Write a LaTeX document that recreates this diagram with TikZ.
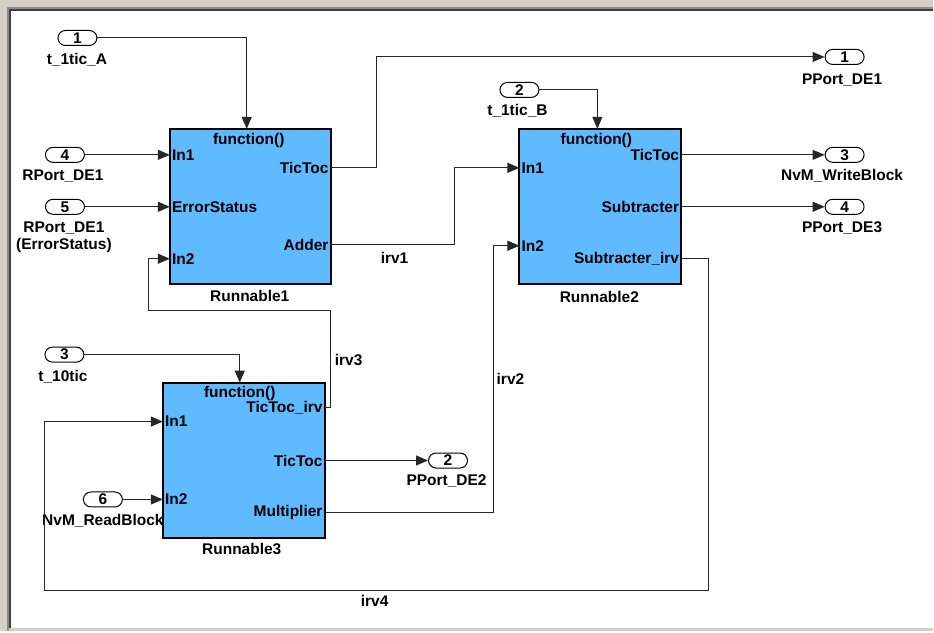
\documentclass[tikz,border=0pt]{standalone}
\usepackage{fontspec}
\setmainfont{Liberation Sans}
\usetikzlibrary{arrows.meta}
\definecolor{blockblue}{RGB}{95,186,255}
\definecolor{winGray}{RGB}{212,208,200}
\begin{document}
\begin{tikzpicture}[x=1pt,y=-1pt,
  every node/.style={font=\fontsize{15.5}{17.5}\selectfont\bfseries, inner sep=0pt, text=black},
  block/.style={draw=black, line width=2pt, fill=blockblue, outer sep=0pt},
  port/.style={draw=black, line width=1pt, rounded corners=7.5pt, minimum width=39pt, minimum height=15pt, fill=white},
  wire/.style={draw=black!85, line width=1pt},
  arr/.style={wire, -{Triangle[length=12pt,width=10pt]}},
  lw/.style={anchor=west},
  le/.style={anchor=east}]
% window frame
\fill[winGray] (0,0) rectangle (934,632);
\fill[white] (8,8) rectangle (934,629);
\draw[black!45, line width=2pt] (8.5,632) -- (8.5,8.5) -- (934,8.5);
\draw[black!75, line width=2pt] (10.5,629) -- (10.5,10.5) -- (934,10.5);
\useasboundingbox (0,0) rectangle (934,632);

% blocks
\node[block, minimum width=161pt, minimum height=155pt] (R1) at (250.5,206.5) {};
\node[block, minimum width=162pt, minimum height=155pt] (R2) at (601,206.5) {};
\node[block, minimum width=162pt, minimum height=156pt] (R3) at (244,461) {};

% block texts
\node (R1f) at (249,141) {function()};
\node[lw] (R1i1) at (172,155) {In1};
\node[le] (R1o1) at (329,168) {TicToc};
\node[lw] (R1i2) at (172,207) {ErrorStatus};
\node[le] (R1o2) at (329,245) {Adder};
\node[lw] (R1i3) at (172,259) {In2};
\node (R1n) at (250,296) {Runnable1};

\node (R2f) at (597,141) {function()};
\node[le] (R2o1) at (680,155) {TicToc};
\node[lw] (R2i1) at (522,168) {In1};
\node[le] (R2o2) at (680,207) {Subtracter};
\node[lw] (R2i2) at (522,246) {In2};
\node[le] (R2o3) at (680,259) {Subtracter\_irv};
\node (R2n) at (600,297) {Runnable2};

\node (R3f) at (240,394) {function()};
\node[le] (R3o1) at (323,408) {TicToc\_irv};
\node[lw] (R3i1) at (165,422) {In1};
\node[le] (R3o2) at (323,461) {TicToc};
\node[lw] (R3i2) at (165,500) {In2};
\node[le] (R3o3) at (323,513) {Multiplier};
\node (R3n) at (242,550) {Runnable3};

% ports
\node[port] (p1) at (77.5,38) {1};
\node (p1l) at (77,60) {t\_1tic\_A};
\node[port] (p4) at (65,155) {4};
\node (p4l) at (63,176) {RPort\_DE1};
\node[port] (p5) at (65,207) {5};
\node[align=center] (p5l) at (64,237.5) {RPort\_DE1\\(ErrorStatus)};
\node[port] (p3) at (64.5,355) {3};
\node (p3l) at (63,377) {t\_10tic};
\node[port] (p6) at (103,500) {6};
\node (p6l) at (103,521) {NvM\_ReadBlock};
\node[port] (p2) at (520,90) {2};
\node (p2l) at (518,111) {t\_1tic\_B};

\node[port] (q1) at (845.5,57) {1};
\node (q1l) at (843,80) {PPort\_DE1};
\node[port] (q3) at (845.5,155) {3};
\node (q3l) at (843,176) {NvM\_WriteBlock};
\node[port] (q4) at (845.5,207) {4};
\node (q4l) at (843,228) {PPort\_DE3};
\node[port] (q2) at (448.5,461) {2};
\node (q2l) at (447,482) {PPort\_DE2};

% connection points
\coordinate (R1trig) at (247,129);
\coordinate (R1in1) at (170,155);
\coordinate (R1err) at (170,207);
\coordinate (R1in2) at (170,259);
\coordinate (R1tic) at (331,168);
\coordinate (R1add) at (331,245);
\coordinate (R2trig) at (598,129);
\coordinate (R2in1) at (520,168);
\coordinate (R2in2) at (520,246);
\coordinate (R2tic) at (682,155);
\coordinate (R2sub) at (682,207);
\coordinate (R2irv) at (682,259);
\coordinate (R3trig) at (240,383);
\coordinate (R3in1) at (163,422);
\coordinate (R3in2) at (163,500);
\coordinate (R3irv) at (325,408);
\coordinate (R3tic) at (325,461);
\coordinate (R3mul) at (325,513);

% wires
\draw[arr] (p1.east) -| (R1trig);
\draw[arr] (p4.east) -- (R1in1);
\draw[arr] (p5.east) -- (R1err);
\draw[arr] (R3irv) -- (331,408) -- (331,311) -- (149,311) -- (149,259) -- (R1in2);
\draw[arr] (R1tic) -- (377,168) -- (377,57) -- (q1.west);
\draw[arr] (R1add) -- (455,245) -- (455,168) -- (R2in1);
\draw[arr] (p2.east) -| (R2trig);
\draw[arr] (R2tic) -- (q3.west);
\draw[arr] (R2sub) -- (q4.west);
\draw[arr] (R2irv) -- (709,259) -- (709,591) -- (45,591) -- (45,422) -- (R3in1);
\draw[arr] (p3.east) -| (R3trig);
\draw[arr] (p6.east) -- (R3in2);
\draw[arr] (R3tic) -- (q2.west);
\draw[arr] (R3mul) -- (494,513) -- (494,246) -- (R2in2);

% signal labels
\node (irv1) at (395,258) {irv1};
\node[lw] (irv3) at (335,360) {irv3};
\node[lw] (irv2) at (497,379) {irv2};
\node (irv4) at (375,602) {irv4};
\end{tikzpicture}
\end{document}
